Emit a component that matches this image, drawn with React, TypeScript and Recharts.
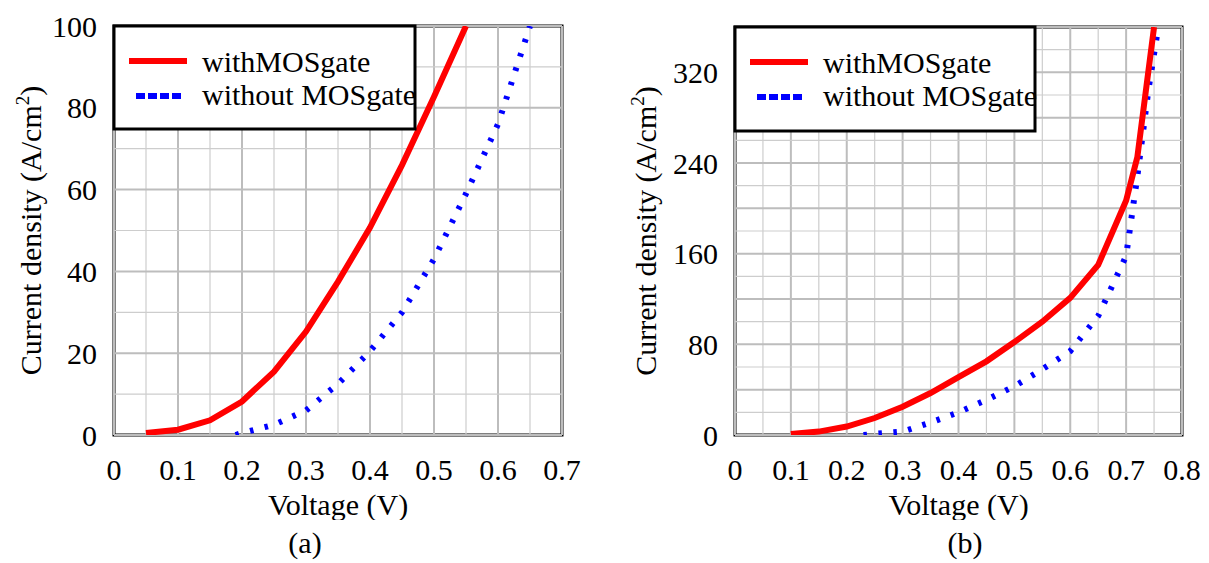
import React from 'react';
import { LineChart, Line, XAxis, YAxis, ReferenceArea, ReferenceLine, Label } from 'recharts';

const FONT = '"Liberation Serif", "Times New Roman", Times, serif';

const seriesNames = ['withMOSgate', 'without MOSgate'];
const xAxisTitle = 'Voltage (V)';
const yAxisTitleMain = 'Current density (A/cm';
const yAxisTitleSup = '2';
const yAxisTitleEnd = ')';
const panelTitles = ['(a)', '(b)'];

// Panel (a)
const aWithV = [0.05, 0.1, 0.15, 0.2, 0.25, 0.3, 0.35, 0.4, 0.45, 0.5, 0.55];
const aWithJ = [0.5, 1.3, 3.6, 8.2, 15.5, 25.3, 37.5, 50.7, 66, 82.7, 100];
const aWithoutV = [0.19, 0.2, 0.25, 0.3, 0.35, 0.4, 0.45, 0.5, 0.55, 0.6, 0.65];
const aWithoutJ = [0, 0.5, 2.5, 6, 12.5, 20.5, 30, 43, 59, 76, 100];
const aXTicks = [0, 0.05, 0.1, 0.15, 0.2, 0.25, 0.3, 0.35, 0.4, 0.45, 0.5, 0.55, 0.6, 0.65, 0.7];
const aYTicks = [0, 10, 20, 30, 40, 50, 60, 70, 80, 90, 100];

// Panel (b)
const bWithV = [0.1, 0.15, 0.2, 0.25, 0.3, 0.35, 0.4, 0.45, 0.5, 0.55, 0.6, 0.65, 0.7, 0.72, 0.75];
const bWithJ = [1, 3, 7.5, 15, 25, 37, 51, 65, 82, 100, 121, 150, 207, 245, 360];
const bWithoutV = [0.23, 0.25, 0.3, 0.35, 0.4, 0.45, 0.5, 0.55, 0.6, 0.65, 0.7, 0.72, 0.74, 0.755];
const bWithoutJ = [0, 1, 3, 11, 20, 31, 43, 58, 74, 105, 158, 228, 305, 352];
const bXTicks = [0, 0.05, 0.1, 0.15, 0.2, 0.25, 0.3, 0.35, 0.4, 0.45, 0.5, 0.55, 0.6, 0.65, 0.7, 0.75, 0.8];
const bYTicks = [0, 20, 40, 60, 80, 100, 120, 140, 160, 180, 200, 220, 240, 260, 280, 300, 320, 340, 360];

const toPoints = (xs: number[], ys: number[]) => xs.map((x, i) => ({ x, y: ys[i] }));

type PanelProps = {
  id: string;
  left: number;
  width: number;
  title: string;
  withData: { x: number; y: number }[];
  withoutData: { x: number; y: number }[];
  xMax: number;
  yMax: number;
  xTicks: number[];
  yTicks: number[];
  yLabelEvery: number;
  yGridMajorEvery: number;
  yAxisWidth: number;
  marginRight: number;
  marginTop: number;
  yTitleX: number;
  titleX: number;
  legendW: number;
  legendH: number;
};

const HEIGHT = 563;
const isXMajor = (v: number) => Math.round(v * 100) % 10 === 0;

function Panel(p: PanelProps) {
  const XTick = (props: any) => {
    const { x, y, payload } = props;
    const v = payload.value as number;
    if (!isXMajor(v)) return <g />;
    return (
      <text x={x} y={y + 45} textAnchor="middle" fontFamily={FONT} fontSize={30} fill="#000">
        {v === 0 ? '0' : v.toFixed(1)}
      </text>
    );
  };
  const YTick = (props: any) => {
    const { x, y, payload } = props;
    const v = payload.value as number;
    if (Math.round(v) % p.yLabelEvery !== 0) return <g />;
    return (
      <text x={x - 17} y={y} dy="0.35em" textAnchor="end" fontFamily={FONT} fontSize={30} fill="#000">
        {String(v)}
      </text>
    );
  };
  const renderYTitle = (props: any) => {
    const vb = props.viewBox || {};
    const cx = (vb.x || 0) + p.yTitleX;
    const cy = (vb.y || 0) + (vb.height || 0) / 2;
    return (
      <text
        x={cx}
        y={cy}
        dy="0.35em"
        textAnchor="middle"
        transform={`rotate(-90, ${cx}, ${cy})`}
        fontFamily={FONT}
        fontSize={30}
        fill="#000"
      >
        {yAxisTitleMain}
        <tspan fontSize={19} dy={-12}>{yAxisTitleSup}</tspan>
        <tspan dy={12}>{yAxisTitleEnd}</tspan>
      </text>
    );
  };
  const renderXTitle = (props: any) => {
    const vb = props.viewBox || {};
    const cx = (vb.x || 0) + (vb.width || 0) / 2;
    const clipId = `clip-x-${p.id}`;
    return (
      <g>
        <defs>
          <clipPath id={clipId}>
            <rect x={0} y={470} width={p.width} height={50} />
          </clipPath>
        </defs>
        <text x={cx} y={515} textAnchor="middle" fontFamily={FONT} fontSize={30} fill="#000" clipPath={`url(#${clipId})`}>
          {xAxisTitle}
        </text>
        <text x={p.titleX} y={553} textAnchor="middle" fontFamily={FONT} fontSize={30} fill="#000">
          {p.title}
        </text>
      </g>
    );
  };

  const lx = p.yAxisWidth;
  const ly = p.marginTop;

  return (
    <div style={{ position: 'absolute', left: p.left, top: 0, width: p.width, height: HEIGHT }}>
      <LineChart
        width={p.width}
        height={HEIGHT}
        margin={{ top: p.marginTop, right: p.marginRight, left: 0, bottom: 68 }}
      >
        <XAxis
          dataKey="x"
          type="number"
          domain={[0, p.xMax]}
          ticks={p.xTicks}
          interval={0}
          allowDataOverflow
          axisLine={false}
          tickLine={false}
          tickSize={0}
          tickMargin={0}
          tick={<XTick />}
          height={60}
        >
          <Label content={renderXTitle} />
        </XAxis>
        <YAxis
          type="number"
          domain={[0, p.yMax]}
          ticks={p.yTicks}
          interval={0}
          allowDataOverflow
          axisLine={false}
          tickLine={false}
          tickSize={0}
          tickMargin={0}
          tick={<YTick />}
          width={p.yAxisWidth}
        >
          <Label content={renderYTitle} />
        </YAxis>
        {p.xTicks.map((v) => (
          <ReferenceLine
            key={`gx-${v}`}
            x={v}
            stroke={isXMajor(v) ? '#bdbdbd' : '#cdcdcd'}
            strokeWidth={isXMajor(v) ? 2 : 1.2}
          />
        ))}
        {p.yTicks.map((v) => (
          <ReferenceLine
            key={`gy-${v}`}
            y={v}
            stroke={Math.round(v) % p.yGridMajorEvery === 0 ? '#bdbdbd' : '#cdcdcd'}
            strokeWidth={Math.round(v) % p.yGridMajorEvery === 0 ? 2 : 1.2}
          />
        ))}
        <ReferenceArea
          x1={0}
          x2={p.xMax}
          y1={0}
          y2={p.yMax}
          fill="none"
          fillOpacity={0}
          stroke="#000"
          strokeWidth={3}
          ifOverflow="visible"
        />
        <Line
          data={p.withoutData}
          dataKey="y"
          type="linear"
          stroke="#0000ff"
          strokeWidth={6}
          strokeDasharray="3.5 11.5"
          dot={false}
          activeDot={false}
          isAnimationActive={false}
          name={seriesNames[1]}
        />
        <Line
          data={p.withData}
          dataKey="y"
          type="linear"
          stroke="#ff0000"
          strokeWidth={6}
          dot={false}
          activeDot={false}
          isAnimationActive={false}
          name={seriesNames[0]}
        />
      </LineChart>
      <svg
        width={p.width}
        height={HEIGHT}
        style={{ position: 'absolute', left: 0, top: 0, pointerEvents: 'none' }}
      >
        <rect x={lx} y={ly} width={p.legendW} height={p.legendH} fill="#fff" stroke="#000" strokeWidth={3} />
        <line x1={lx + 15} x2={lx + 73} y1={ly + 35} y2={ly + 35} stroke="#ff0000" strokeWidth={6} />
        <line x1={lx + 22} x2={lx + 69} y1={ly + 70} y2={ly + 70} stroke="#0000ff" strokeWidth={6} strokeDasharray="9 3" />
        <text x={lx + 88} y={ly + 46} fontFamily={FONT} fontSize={30} fill="#000">{seriesNames[0]}</text>
        <text x={lx + 88} y={ly + 79} fontFamily={FONT} fontSize={30} fill="#000">{seriesNames[1]}</text>
      </svg>
    </div>
  );
}

export default function App() {
  return (
    <div style={{ position: 'absolute', left: 0, top: 0, width: 1209, height: HEIGHT, background: '#fff' }}>
      <Panel
        id="a"
        left={0}
        width={600}
        title={panelTitles[0]}
        withData={toPoints(aWithV, aWithJ)}
        withoutData={toPoints(aWithoutV, aWithoutJ)}
        xMax={0.7}
        yMax={100}
        xTicks={aXTicks}
        yTicks={aYTicks}
        yLabelEvery={20}
        yGridMajorEvery={20}
        yAxisWidth={114}
        marginRight={38}
        marginTop={26}
        yTitleX={30}
        titleX={305}
        legendW={301}
        legendH={103}
      />
      <Panel
        id="b"
        left={600}
        width={609}
        title={panelTitles[1]}
        withData={toPoints(bWithV, bWithJ)}
        withoutData={toPoints(bWithoutV, bWithoutJ)}
        xMax={0.8}
        yMax={360}
        xTicks={bXTicks}
        yTicks={bYTicks}
        yLabelEvery={80}
        yGridMajorEvery={40}
        yAxisWidth={135}
        marginRight={27}
        marginTop={27}
        yTitleX={45}
        titleX={365}
        legendW={300}
        legendH={104}
      />
    </div>
  );
}
